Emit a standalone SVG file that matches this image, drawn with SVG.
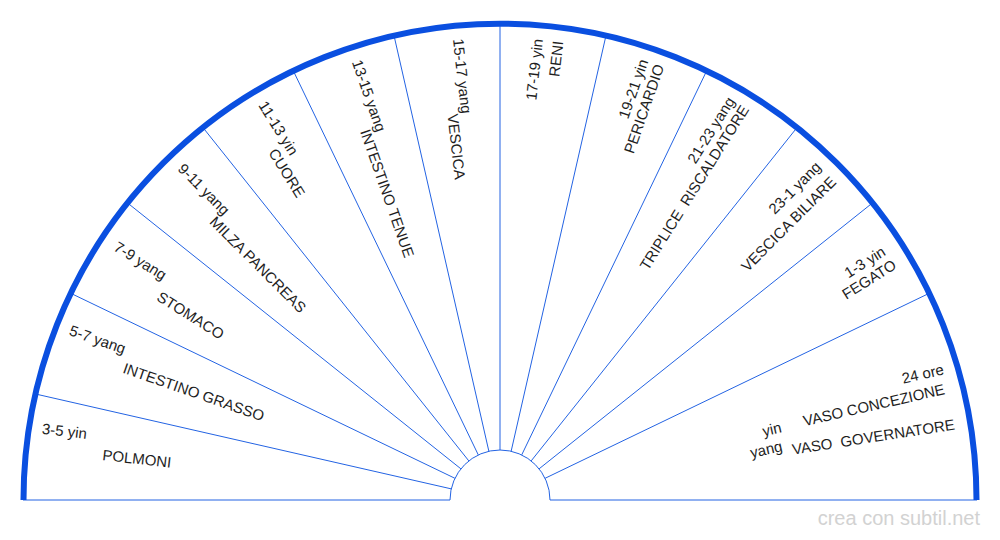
<svg xmlns="http://www.w3.org/2000/svg" width="1000" height="540" viewBox="0 0 1000 540">
  <style>
    .rim { fill: none; stroke: #0a4fe0; stroke-width: 6; }
    .ln { fill: none; stroke: #2363e3; stroke-width: 1; }
    .t { font-family: "Liberation Sans", Arial, sans-serif; font-size: 15px; fill: #1e1e1e; white-space: pre; }
    .e { text-anchor: end; }
    .wm { font-family: "Liberation Sans", Arial, sans-serif; font-size: 20px; fill: #d2d2d2; text-anchor: end; }
  </style>
  <rect width="1000" height="540" fill="#ffffff"/>
  <g id="connectors">
    <path class="ln" d="M23 500 H450 M550 500 H977"/>
    <path class="ln" d="M450 500 A50 50 0 0 1 550 500"/>
    <path class="ln" d="M545.05 478.31 L929.76 293.04 M539.09 468.83 L872.93 202.59 M531.17 460.91 L797.41 127.07 M521.69 454.95 L706.96 70.24 M511.13 451.25 L606.14 34.96 M500 450 L500 23 M488.87 451.25 L393.86 34.96 M478.31 454.95 L293.04 70.24 M468.83 460.91 L202.59 127.07 M460.91 468.83 L127.07 202.59 M454.95 478.31 L70.24 293.04 M451.25 488.87 L34.96 393.86"/>
    <path class="rim" d="M23.5 500 A476.5 476.5 0 0 1 976.5 500"/>
  </g>
  <g id="polmoni" transform="rotate(6.43 500 500)">
    <text class="t" x="37" y="485.6">3-5 yin</text>
    <text class="t" x="100" y="504.8">POLMONI</text>
  </g>
  <g id="intestino-grasso" transform="rotate(19.29 500 500)">
    <text class="t" x="38" y="486.6">5-7 yang</text>
    <text class="t" x="101" y="504.5">INTESTINO GRASSO</text>
  </g>
  <g id="stomaco" transform="rotate(32.14 500 500)">
    <text class="t" x="39" y="494">7-9 yang</text>
    <text class="t" x="102" y="513.5">STOMACO</text>
  </g>
  <g id="milza-pancreas" transform="rotate(45 500 500)">
    <text class="t" x="38" y="494.8">9-11 yang</text>
    <text class="t" x="98" y="509.9">MILZA PANCREAS</text>
  </g>
  <g id="cuore" transform="rotate(57.86 500 500)">
    <text class="t" x="37" y="495">11-13 yin</text>
    <text class="t" x="82.5" y="511.8">CUORE</text>
  </g>
  <g id="intestino-tenue" transform="rotate(70.71 500 500)">
    <text class="t" x="37.5" y="495.3">13-15 yang</text>
    <text class="t" x="106" y="510.5">INTESTINO TENUE</text>
  </g>
  <g id="vescica" transform="rotate(83.57 500 500)">
    <text class="t" x="37" y="495.2">15-17 yang</text>
    <text class="t" x="111" y="509">VESCICA</text>
  </g>
  <g id="reni" transform="rotate(-83.57 500 500)">
    <text class="t e" x="962.5" y="491.2">17-19 yin</text>
    <text class="t e" x="962.5" y="511.6">RENI</text>
  </g>
  <g id="pericardio" transform="rotate(-70.71 500 500)">
    <text class="t e" x="963" y="495.2">19-21 yin</text>
    <text class="t e" x="963.5" y="512">PERICARDIO</text>
  </g>
  <g id="triplice-riscaldatore" transform="rotate(-57.86 500 500)">
    <text class="t e" x="963" y="487.1">21-23 yang</text>
    <text class="t e" x="963.5" y="503.6">TRIPLICE  RISCALDATORE</text>
  </g>
  <g id="vescica-biliare" transform="rotate(-45 500 500)">
    <text class="t e" x="962.5" y="492.9">23-1 yang</text>
    <text class="t e" x="962.5" y="514.1">VESCICA BILIARE</text>
  </g>
  <g id="fegato" transform="rotate(-32.14 500 500)">
    <text class="t e" x="958" y="497.8">1-3 yin</text>
    <text class="t e" x="960" y="514.8">FEGATO</text>
  </g>
  <g id="vasi">
    <g transform="rotate(-12.86 500 500)">
      <text class="t e" x="961.5" y="476.3">24 ore</text>
      <text class="t e" x="958" y="495.8">VASO CONCEZIONE</text>
      <text class="t e" x="790.5" y="496.7">yin</text>
      <text class="t e" x="787" y="515.1">yang</text>
    </g>
    <text class="t" x="796.5" y="500" transform="rotate(-8.8 500 500)">VASO  GOVERNATORE</text>
  </g>
  <text class="wm" x="980" y="525">crea con subtil.net</text>
</svg>
